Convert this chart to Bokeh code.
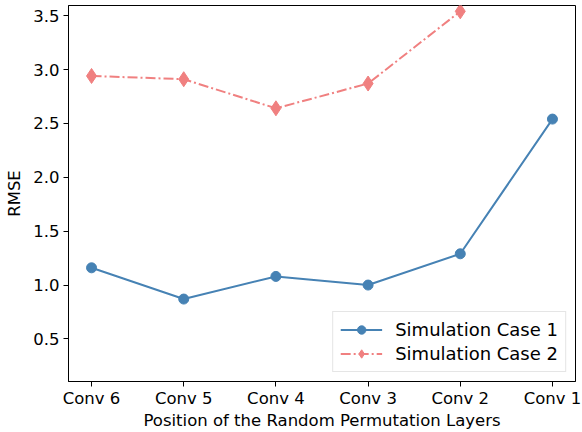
from bokeh.plotting import figure
from bokeh.models import Range1d, FixedTicker, NumeralTickFormatter, Legend, LegendItem
from bokeh.embed import file_html
from bokeh.resources import INLINE

# Data
layers = ["Conv 6", "Conv 5", "Conv 4", "Conv 3", "Conv 2", "Conv 1"]
case1 = [1.16, 0.87, 1.08, 1.00, 1.29, 2.54]
case2 = [2.94, 2.91, 2.64, 2.87, 3.54, 6.5]
y_ticks = [0.5, 1.0, 1.5, 2.0, 2.5, 3.0, 3.5]

xs = list(range(len(layers)))
FONT = "DejaVu Sans"

p = figure(width=582, height=432, output_backend="svg", toolbar_location=None,
           x_range=Range1d(-0.25, 5.25), y_range=Range1d(0.105, 3.594),
           min_border_left=68, min_border_right=7, min_border_top=5, min_border_bottom=49)

p.xgrid.visible = False
p.ygrid.visible = False
p.outline_line_color = "black"
p.outline_line_width = 1
p.background_fill_color = "white"
p.border_fill_color = "white"

for ax in (p.xaxis[0], p.yaxis[0]):
    ax.axis_line_color = "black"
    ax.major_tick_line_color = "black"
    ax.major_tick_out = 5
    ax.major_tick_in = 0
    ax.minor_tick_line_color = None
    ax.major_label_text_font = FONT
    ax.major_label_text_font_size = "16.5px"
    ax.major_label_text_color = "black"
    ax.axis_label_text_font = FONT
    ax.axis_label_text_font_size = "16.5px"
    ax.axis_label_text_font_style = "normal"
    ax.axis_label_text_color = "black"

p.xaxis.ticker = FixedTicker(ticks=xs)
p.xaxis.major_label_overrides = {i: lab for i, lab in enumerate(layers)}
p.xaxis.axis_label = "Position of the Random Permutation Layers"
p.xaxis.major_label_standoff = 2
p.xaxis.axis_label_standoff = 0

p.yaxis.ticker = FixedTicker(ticks=y_ticks)
p.yaxis.formatter = NumeralTickFormatter(format="0.0")
p.yaxis.axis_label = "RMSE"
p.yaxis.major_label_standoff = 4
p.yaxis.axis_label_standoff = 6

blue = "#4682B4"
red = "#F08080"

l1 = p.line(xs, case1, line_color=blue, line_width=2)
s1 = p.scatter(xs, case1, marker="circle", size=10, fill_color=blue, line_color=blue)
l2 = p.line(xs, case2, line_color=red, line_width=2, line_dash="10 3 2 3")
s2 = p.scatter(xs, case2, marker="diamond", size=15, fill_color=red, line_color=red)

legend = Legend(items=[
    LegendItem(label="Simulation Case 1", renderers=[l1, s1]),
    LegendItem(label="Simulation Case 2", renderers=[l2, s2]),
], location="bottom_right")
legend.margin = 9
legend.padding = 7
legend.spacing = 3
legend.glyph_width = 42
legend.glyph_height = 21
legend.label_height = 21
legend.label_standoff = 13
legend.label_text_font = FONT
legend.label_text_font_size = "18px"
legend.label_text_color = "black"
legend.border_line_color = "#cccccc"
legend.border_line_width = 1
legend.background_fill_alpha = 0.8
p.add_layout(legend, "center")

open("out.html", "w").write(file_html(p, INLINE))
